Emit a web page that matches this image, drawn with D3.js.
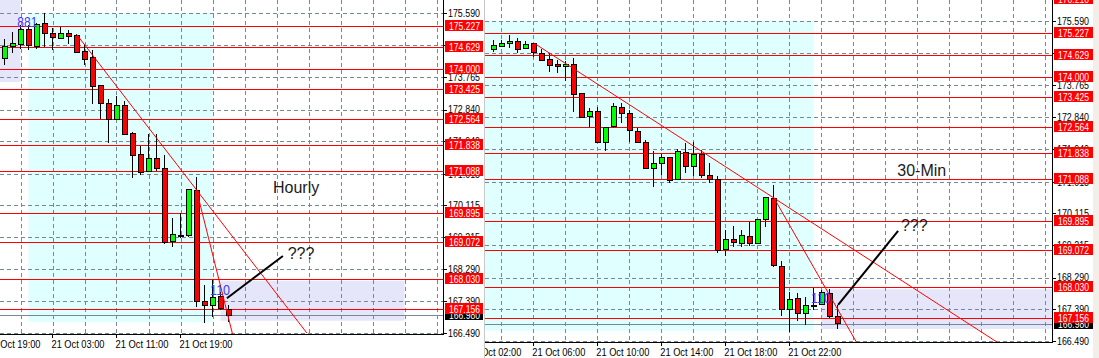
<!DOCTYPE html>
<html><head><meta charset="utf-8">
<script src="https://cdn.jsdelivr.net/npm/d3@7"></script>
<style>body{margin:0;background:#fff;overflow:hidden} svg{display:block}</style>
</head><body>
<svg id="c" width="1099" height="358"></svg>
<script>
// ---------------- DATA ----------------
const priceTicks = [175.590,174.665,173.765,172.840,171.940,171.015,170.115,169.215,168.290,167.390,166.490];
const levelPrices = [176.210,175.227,174.629,174.000,173.425,172.564,171.838,171.088,169.895,169.072,168.030,167.156];
const bidPrice = 166.980;

// Hourly candles (bar 0 = 20 Oct 21:00)
const hourlyOpen  = [174.30,174.65,174.70,175.11,174.63,175.28,175.02,174.86,175.02,174.94,174.48,174.31,173.53,173.02,172.57,172.96,172.15,171.55,171.07,171.45,171.17,169.08,169.25,169.25,170.53,167.37,167.26,167.51,167.16];
const hourlyHigh  = [174.84,175.06,175.25,175.25,175.31,175.58,175.15,175.18,175.11,174.98,174.70,174.54,173.55,173.14,173.24,173.09,172.19,171.81,172.15,172.14,171.55,169.75,169.89,170.59,170.93,167.85,167.99,167.66,167.28];
const hourlyLow   = [174.11,174.44,174.56,174.54,174.57,174.63,174.54,174.84,174.70,174.47,174.11,173.00,172.57,171.90,172.56,172.13,170.89,170.98,171.06,171.10,169.01,168.92,169.18,169.22,167.23,166.76,166.95,167.14,166.80];
const hourlyClose = [174.65,174.71,175.13,174.66,175.27,175.01,174.89,175.02,174.92,174.47,174.28,173.49,173.02,172.57,172.95,172.14,171.54,171.06,171.45,171.15,169.06,169.29,169.27,170.58,167.37,167.26,167.49,167.18,166.98];
const hourlyTimeLabels = ["20 Oct 19:00","21 Oct 03:00","21 Oct 11:00","21 Oct 19:00"];
const hourlyTimeBars = [-2,6,14,22];
const hourlyTrendlines = [[9,174.984,37.8,166.48],[24,170.552,28.5,166.453]];
const hourlyArrow = [27.8,167.469,34.8,168.673];
const hourlySession = [3,26,166.79,175.59];
const hourlyRanges = [[-30,2,173.626,177.0],[27,50,166.83,167.96]];
const hourlyNotes = [["881",1.6,175.19],["110",25.7,167.56]];
const hourlyCaptions = [["Hourly",33.56,170.475],["???",35.4,168.587]];

// 30-minute candles (bar 0 = 21 Oct 03:30)
const m30Open  = [174.76,174.87,174.95,175.01,174.81,174.93,174.66,174.49,174.35,174.30,174.35,173.53,172.86,173.02,172.12,172.58,173.13,172.96,172.45,172.12,171.40,171.54,171.71,171.08,171.85,171.44,171.80,171.18,171.08,169.08,169.36,169.27,169.47,169.27,169.95,170.53,168.60,167.39,167.70,167.26,167.48,167.54,167.85,167.18];
const m30High  = [175.04,175.04,175.18,175.11,175.01,174.97,174.78,174.66,174.47,174.45,174.52,173.54,173.10,173.13,172.58,173.24,173.24,173.05,172.53,172.20,171.89,171.80,171.72,171.94,172.11,172.15,171.92,171.54,171.18,169.64,169.76,169.64,169.88,169.95,170.58,170.92,168.76,167.89,167.86,167.75,167.99,167.94,167.96,167.51];
const m30Low   = [174.71,174.83,174.82,174.68,174.80,174.57,174.46,174.14,174.11,173.88,173.01,172.84,172.58,172.11,171.90,172.53,172.69,172.15,172.13,171.39,170.87,171.21,170.97,171.07,171.26,171.18,171.12,170.99,169.00,168.91,169.15,169.17,169.19,169.26,169.74,168.60,167.21,166.74,167.06,166.95,167.37,167.51,167.14,166.82];
const m30Close = [174.88,174.93,175.01,174.78,174.92,174.69,174.47,174.32,174.30,174.35,173.50,172.85,173.01,172.12,172.55,173.15,172.96,172.46,172.14,171.40,171.54,171.71,171.06,171.87,171.44,171.80,171.18,171.08,169.05,169.38,169.30,169.49,169.27,169.95,170.57,168.63,167.39,167.68,167.28,167.49,167.49,167.86,167.18,166.98];
const m30TimeLabels = ["21 Oct 02:00","21 Oct 06:00","21 Oct 10:00","21 Oct 14:00","21 Oct 18:00","21 Oct 22:00"];
const m30TimeBars = [-3,5,13,21,29,37];
const m30Trendlines = [[5.125,174.948,63,166.454],[35,170.59,45.4,166.454]];
const m30Arrow = [43.1,167.513,50.6,169.616];
const m30Session = [-10,40,166.78,175.59];
const m30Ranges = [[41,95,166.83,167.96]];
const m30Notes = [["110",39.7,167.56]];
const m30Captions = [["30-Min",50.5,171.178],["???",50.95,169.616]];

// ---------------- DRAW ----------------
const svg = d3.select("#c");
const defs = svg.append("defs");
svg.append("rect").attr("width",1099).attr("height",358).attr("fill","#fff");

const FONT = "'Liberation Sans', Arial, sans-serif";

function drawPanel(cfg, d) {
  defs.append("clipPath").attr("id", cfg.id+"-all").append("rect")
    .attr("x", cfg.left).attr("y", 0).attr("width", cfg.right-cfg.left).attr("height", 358);
  defs.append("clipPath").attr("id", cfg.id+"-plot").append("rect")
    .attr("x", cfg.plotL).attr("y", 0).attr("width", cfg.plotR-cfg.plotL).attr("height", cfg.plotB);

  const root = svg.append("g").attr("clip-path", `url(#${cfg.id}-all)`);
  const x = d3.scaleLinear()
    .domain([(cfg.plotL-cfg.firstBarX)/cfg.barStep, (cfg.plotR-cfg.firstBarX)/cfg.barStep])
    .range([cfg.plotL, cfg.plotR]);
  const y = d3.scaleLinear().domain([166.490,175.590]).range([cfg.yLo, cfg.yHi]);

  const plot = root.append("g").attr("clip-path", `url(#${cfg.id}-plot)`);

  const zone = (z, fill) => plot.append("rect")
    .attr("x", x(z[0])).attr("width", x(z[1]) - x(z[0]))
    .attr("y", y(z[3])).attr("height", y(z[2]) - y(z[3]))
    .attr("fill", fill);
  zone(d.session, "#e0ffff");
  d.ranges.forEach(r => zone(r, "#e6e6fa"));

  const gridBars = d3.range(d.timeBars[0], x.domain()[1], 4);
  plot.append("g").selectAll("line").data(gridBars).join("line")
    .attr("x1", b => Math.round(x(b))+0.5).attr("x2", b => Math.round(x(b))+0.5)
    .attr("y1", 0).attr("y2", cfg.plotB)
    .attr("stroke", "#778899").attr("stroke-dasharray", "4,3").attr("stroke-width", 1);
  plot.append("g").selectAll("line").data(priceTicks).join("line")
    .attr("x1", cfg.plotL).attr("x2", cfg.plotR)
    .attr("y1", p => Math.round(y(p))+0.5).attr("y2", p => Math.round(y(p))+0.5)
    .attr("stroke", "#778899").attr("stroke-dasharray", "4,3").attr("stroke-width", 1);

  plot.append("g").selectAll("line").data(levelPrices).join("line")
    .attr("x1", cfg.plotL).attr("x2", cfg.plotR)
    .attr("y1", p => Math.round(y(p))+0.5).attr("y2", p => Math.round(y(p))+0.5)
    .attr("stroke", "#ff0000").attr("stroke-width", 1);
  plot.append("line").attr("x1", cfg.plotL).attr("x2", cfg.plotR)
    .attr("y1", Math.round(y(bidPrice))+0.5).attr("y2", Math.round(y(bidPrice))+0.5)
    .attr("stroke", "#778899").attr("stroke-width", 1);

  const idx = d3.range(d.open.length);
  const cg = plot.append("g").attr("shape-rendering", "crispEdges");
  cg.selectAll("line.w").data(idx).join("line").attr("class","w")
    .attr("x1", i => Math.floor(x(i))+0.5).attr("x2", i => Math.floor(x(i))+0.5)
    .attr("y1", i => y(d.high[i])).attr("y2", i => y(d.low[i]))
    .attr("stroke", "#000").attr("stroke-width", 1);
  cg.selectAll("rect.b").data(idx).join("rect").attr("class","b")
    .attr("x", i => Math.floor(x(i))-2)
    .attr("width", 5)
    .attr("y", i => y(Math.max(d.open[i], d.close[i])))
    .attr("height", i => Math.max(1, Math.abs(y(d.open[i]) - y(d.close[i]))))
    .attr("fill", i => d.close[i] >= d.open[i] ? "#00ff00" : "#ff0000")
    .attr("stroke", "#000").attr("stroke-width", 1);

  plot.append("g").selectAll("line").data(d.trend).join("line")
    .attr("x1", t => x(t[0])).attr("y1", t => y(t[1]))
    .attr("x2", t => x(t[2])).attr("y2", t => y(t[3]))
    .attr("stroke", "#ff0000").attr("stroke-width", 1);

  plot.append("line")
    .attr("x1", x(d.arrow[0])).attr("y1", y(d.arrow[1]))
    .attr("x2", x(d.arrow[2])).attr("y2", y(d.arrow[3]))
    .attr("stroke", "#000").attr("stroke-width", 2);

  plot.append("g").selectAll("text").data(d.notes).join("text")
    .attr("x", n => x(n[1])).attr("y", n => y(n[2]))
    .attr("font-family", FONT).attr("font-size", 15)
    .attr("textLength", 20).attr("lengthAdjust", "spacingAndGlyphs")
    .attr("fill", "#3c3cff").text(n => n[0]);
  plot.append("g").selectAll("text").data(d.captions).join("text")
    .attr("x", n => x(n[1])).attr("y", n => y(n[2]))
    .attr("font-family", FONT).attr("font-size", 16)
    .attr("fill", "#1a1a1a").text(n => n[0]);

  const ax = root.append("g").attr("shape-rendering", "crispEdges");
  ax.append("line").attr("x1", cfg.plotR+0.5).attr("x2", cfg.plotR+0.5).attr("y1", 0).attr("y2", cfg.plotB+0.5)
    .attr("stroke", "#000");
  ax.append("line").attr("x1", cfg.plotL).attr("x2", cfg.plotR+0.5).attr("y1", cfg.plotB+0.5).attr("y2", cfg.plotB+0.5)
    .attr("stroke", "#000");

  ax.selectAll("line.pt").data(priceTicks).join("line").attr("class","pt")
    .attr("x1", cfg.plotR).attr("x2", cfg.plotR+4)
    .attr("y1", p => Math.round(y(p))+0.5).attr("y2", p => Math.round(y(p))+0.5)
    .attr("stroke", "#000");
  root.append("g").selectAll("text").data(priceTicks).join("text")
    .attr("x", cfg.plotR+5).attr("y", p => y(p)+3.8)
    .attr("font-family", FONT).attr("font-size", 10.5)
    .attr("textLength", 32).attr("lengthAdjust", "spacingAndGlyphs")
    .attr("fill", "#000").text(p => p.toFixed(3));

  ax.selectAll("line.tt").data(d.timeBars).join("line").attr("class","tt")
    .attr("x1", b => Math.floor(x(b))+0.5).attr("x2", b => Math.floor(x(b))+0.5)
    .attr("y1", cfg.plotB).attr("y2", cfg.plotB+4)
    .attr("stroke", "#000");
  root.append("g").selectAll("text").data(d.timeBars).join("text")
    .attr("x", b => x(b)-1).attr("y", cfg.timeBaseline)
    .attr("font-family", FONT).attr("font-size", 10)
    .attr("textLength", 53).attr("lengthAdjust", "spacingAndGlyphs")
    .attr("fill", "#000").text((b, i) => d.timeLabels[i]);

  const box = (p, fill) => {
    const yy = Math.round(y(p));
    root.append("rect").attr("x", cfg.plotR+2).attr("y", yy-6).attr("width", cfg.boxW).attr("height", 11)
      .attr("fill", fill);
    root.append("text").attr("x", cfg.plotR+6).attr("y", yy+3.8)
      .attr("font-family", FONT).attr("font-size", 10.5)
      .attr("textLength", 31).attr("lengthAdjust", "spacingAndGlyphs")
      .attr("fill", "#fff").text(p.toFixed(3));
  };
  box(bidPrice, "#000");
  levelPrices.forEach(p => box(p, "#ff0000"));
}

drawPanel(
  {id:"h", left:0, right:484, plotL:0, plotR:443, plotB:334, yHi:13, yLo:332.7,
   firstBarX:4.5, barStep:8, timeBaseline:347.5, boxW:38},
  {open:hourlyOpen, high:hourlyHigh, low:hourlyLow, close:hourlyClose,
   timeLabels:hourlyTimeLabels, timeBars:hourlyTimeBars, trend:hourlyTrendlines,
   arrow:hourlyArrow, session:hourlySession, ranges:hourlyRanges,
   notes:hourlyNotes, captions:hourlyCaptions});

drawPanel(
  {id:"m", left:485, right:1093, plotL:485, plotR:1052, plotB:342, yHi:20.7, yLo:341,
   firstBarX:493.3, barStep:8, timeBaseline:355.7, boxW:39},
  {open:m30Open, high:m30High, low:m30Low, close:m30Close,
   timeLabels:m30TimeLabels, timeBars:m30TimeBars, trend:m30Trendlines,
   arrow:m30Arrow, session:m30Session, ranges:m30Ranges,
   notes:m30Notes, captions:m30Captions});

svg.append("line").attr("x1",484.5).attr("x2",484.5).attr("y1",0).attr("y2",358)
  .attr("stroke","#c8c8c8").attr("stroke-width",1);
svg.append("rect").attr("x",1093).attr("y",0).attr("width",6).attr("height",358).attr("fill","#f4eee8");
</script>
</body></html>
